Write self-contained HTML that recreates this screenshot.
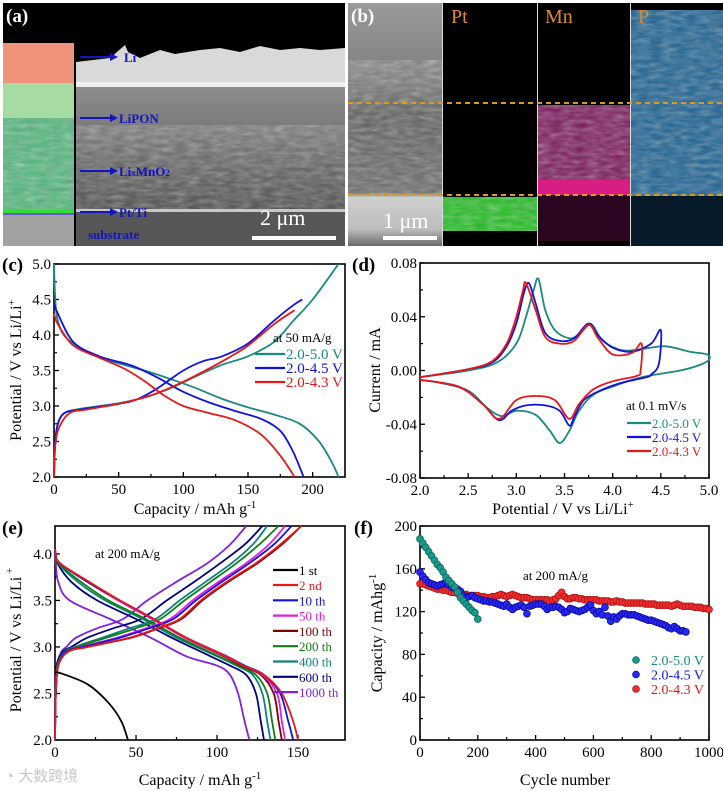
<!DOCTYPE html>
<html><head><meta charset="utf-8">
<style>
html,body{margin:0;padding:0;background:#fff;}
svg{display:block;font-family:"Liberation Serif",serif;}
</style></head>
<body>
<svg id="fig" width="723" height="791" viewBox="0 0 723 791">
<defs>
<filter id="tex" x="0" y="0" width="100%" height="100%"><feTurbulence type="fractalNoise" baseFrequency="0.08 0.25" numOctaves="2" seed="3"/><feColorMatrix type="saturate" values="0"/><feComponentTransfer><feFuncA type="table" tableValues="0 0.55"/></feComponentTransfer><feComposite in2="SourceGraphic" operator="in"/></filter>
<linearGradient id="semA" x1="0" y1="0" x2="0" y2="1"><stop offset="0" stop-color="#8c8c8c"/><stop offset="0.35" stop-color="#7a7a7a"/><stop offset="0.6" stop-color="#646464"/><stop offset="1" stop-color="#4a4a4a"/></linearGradient>
<linearGradient id="semB" x1="0" y1="0" x2="0" y2="1"><stop offset="0" stop-color="#9a9a9a"/><stop offset="0.3" stop-color="#808080"/><stop offset="0.45" stop-color="#5e5e5e"/><stop offset="0.78" stop-color="#6a6a6a"/><stop offset="0.8" stop-color="#cfcfcf"/><stop offset="0.93" stop-color="#bdbdbd"/><stop offset="1" stop-color="#6a6a6a"/></linearGradient>
</defs>

<!-- Panel (a) -->
<g>
<rect x="3" y="3" width="342" height="243" fill="#000"/>
<rect x="3" y="43" width="71" height="40" fill="#f0937b"/>
<rect x="3" y="83" width="71" height="129" fill="#a6dba3"/>
<rect x="3" y="118" width="71" height="92" fill="#4fb97c"/>
<rect x="3" y="118" width="71" height="92" fill="#2a8a5a" filter="url(#tex)"/>
<rect x="3" y="210" width="71" height="3" fill="#33dd33"/>
<rect x="3" y="213" width="71" height="2" fill="#6a5ac8"/>
<rect x="3" y="215" width="71" height="31" fill="#a2a2a2"/>
<path d="M76 62 L110 58 L125 45 L128 52 L140 58 L160 50 L175 54 L200 50 L220 48 L240 52 L260 46 L280 50 L300 48 L320 50 L345 48 L345 86 L76 86 Z" fill="#d9d9d9"/>
<rect x="76" y="82" width="269" height="5" fill="#f0f0f0"/>
<rect x="76" y="87" width="269" height="123" fill="url(#semA)"/>
<rect x="76" y="125" width="269" height="85" fill="#303030" filter="url(#tex)"/>
<rect x="76" y="209" width="269" height="3" fill="#c8c8c8"/>
<rect x="76" y="212" width="269" height="34" fill="#575757"/>
<g fill="#1414c0" font-weight="bold" font-size="13">
<line x1="80" y1="57" x2="112" y2="57" stroke="#1414c0" stroke-width="2"/><path d="M118 57 L110 53 L110 61Z"/>
<text x="124" y="62">Li</text>
<line x1="80" y1="118" x2="112" y2="118" stroke="#1414c0" stroke-width="2"/><path d="M118 118 L110 114 L110 122Z"/>
<text x="119" y="123">LiPON</text>
<line x1="80" y1="171" x2="112" y2="171" stroke="#1414c0" stroke-width="2"/><path d="M118 171 L110 167 L110 175Z"/>
<text x="119" y="176">Li<tspan font-size="9">x</tspan>MnO<tspan font-size="9">2</tspan></text>
<line x1="80" y1="212" x2="112" y2="212" stroke="#1414c0" stroke-width="2"/><path d="M118 212 L110 208 L110 216Z"/>
<text x="119" y="217">Pt/Ti</text>
<text x="88" y="239">substrate</text>
</g>
<text x="260" y="225" fill="#fff" font-size="22">2 μm</text>
<rect x="252" y="236" width="84" height="4" fill="#fff"/>
<text x="6" y="22" fill="#fff" font-weight="bold" font-size="19">(a)</text>
</g>

<!-- Panel (b) -->
<g>
<rect x="348" y="3" width="375" height="243" fill="#000"/>
<rect x="348" y="3" width="94" height="243" fill="url(#semB)"/>
<rect x="348" y="60" width="94" height="135" fill="#2a2a2a" filter="url(#tex)"/>
<rect x="443" y="197" width="94" height="34" fill="#1cc01c"/>
<rect x="443" y="197" width="94" height="34" fill="#000" filter="url(#tex)"/>
<rect x="538" y="105" width="92" height="78" fill="#7a1458"/>
<rect x="538" y="105" width="92" height="78" fill="#000" filter="url(#tex)"/>
<rect x="538" y="180" width="92" height="15" fill="#d81e84"/>
<rect x="538" y="196" width="92" height="45" fill="#2a0620"/>
<rect x="631" y="10" width="92" height="186" fill="#165f92"/>
<rect x="631" y="10" width="92" height="186" fill="#000" filter="url(#tex)"/>
<rect x="631" y="196" width="92" height="50" fill="#061a2a"/>
<line x1="442.5" y1="3" x2="442.5" y2="246" stroke="#ddd"/>
<line x1="537.5" y1="3" x2="537.5" y2="246" stroke="#ddd"/>
<line x1="630.5" y1="3" x2="630.5" y2="246" stroke="#ddd"/>
<line x1="348" y1="103" x2="723" y2="103" stroke="#d99a20" stroke-width="2" stroke-dasharray="5,4"/>
<line x1="348" y1="195" x2="723" y2="195" stroke="#d99a20" stroke-width="2" stroke-dasharray="5,4"/>
<g fill="#e08a2a" font-size="20">
<text x="451" y="23">Pt</text>
<text x="545" y="23">Mn</text>
<text x="638" y="23">P</text>
</g>
<text x="383" y="228" fill="#fff" font-size="22">1 μm</text>
<rect x="383" y="236" width="54" height="4" fill="#fff"/>
<text x="351" y="22" fill="#fff" font-weight="bold" font-size="19">(b)</text>
</g>

<g id="charts"></g>
<text x="5" y="781" fill="#c8c8c8" font-size="15" font-family="'Liberation Sans','Noto Sans CJK SC',sans-serif">◔ 大数跨境</text>
</svg>

<script>
// ---------- Panel (c) data ----------
const cXTicks = [0, 50, 100, 150, 200];
const cYTicks = [2.0, 2.5, 3.0, 3.5, 4.0, 4.5, 5.0];
const cLegend = ["2.0-5.0 V", "2.0-4.5 V", "2.0-4.3 V"];
const cTealChgCap = [0,1,3,8,20,50,70,90,110,130,150,170,185,200,220];
const cTealChgV   = [2.0,2.5,2.75,2.9,2.96,3.04,3.12,3.25,3.42,3.58,3.7,3.9,4.2,4.5,5.0];
const cTealDisCap = [0,1,3,10,30,50,70,90,110,130,150,170,190,205,215,220];
const cTealDisV   = [5.0,4.5,4.2,3.95,3.72,3.6,3.5,3.38,3.25,3.1,2.98,2.88,2.75,2.5,2.2,2.0];
const cBlueChgCap = [0,1,3,8,20,50,65,80,100,115,130,150,170,185,192];
const cBlueChgV   = [2.0,2.5,2.75,2.9,2.95,3.03,3.1,3.25,3.5,3.63,3.7,3.88,4.2,4.42,4.5];
const cBlueDisCap = [0,3,15,35,60,80,100,120,140,160,175,185,193];
const cBlueDisV   = [4.45,4.3,3.9,3.7,3.57,3.4,3.2,3.05,2.93,2.82,2.65,2.35,2.0];
const cRedChgCap  = [0,1,4,12,25,50,75,95,115,135,150,170,186];
const cRedChgV    = [2.0,2.45,2.7,2.9,2.95,3.03,3.15,3.3,3.48,3.68,3.85,4.15,4.35];
const cRedDisCap  = [0,3,15,35,55,70,85,100,120,140,160,175,186];
const cRedDisV    = [4.3,4.15,3.85,3.68,3.52,3.35,3.15,3.0,2.9,2.8,2.6,2.3,2.0];

// ---------- Panel (d) data ----------
const dXTicks = [2.0, 2.5, 3.0, 3.5, 4.0, 4.5, 5.0];
const dYTicks = [-0.08, -0.04, 0.00, 0.04, 0.08];
const dTealV = [2.0,2.5,2.8,3.0,3.1,3.18,3.23,3.3,3.4,3.55,3.65,3.75,3.8,3.9,4.1,4.3,4.55,4.8,4.98,5.0,4.9,4.7,4.3,4.0,3.8,3.65,3.55,3.45,3.35,3.2,3.0,2.85,2.7,2.5,2.2,2.0];
const dTealI = [-0.005,0.0,0.006,0.02,0.04,0.06,0.068,0.045,0.03,0.024,0.027,0.034,0.033,0.022,0.015,0.016,0.018,0.014,0.012,0.008,0.004,0.0,-0.005,-0.012,-0.018,-0.03,-0.045,-0.054,-0.045,-0.033,-0.03,-0.034,-0.028,-0.015,-0.009,-0.007];
const dBlueV = [2.0,2.5,2.75,2.9,3.0,3.08,3.13,3.2,3.3,3.45,3.6,3.75,3.85,4.0,4.2,4.4,4.5,4.48,4.4,4.35,4.1,3.9,3.7,3.6,3.55,3.45,3.3,3.1,2.95,2.82,2.65,2.4,2.0];
const dBlueI = [-0.005,0.001,0.006,0.018,0.035,0.058,0.065,0.05,0.028,0.022,0.024,0.035,0.026,0.017,0.014,0.02,0.03,0.005,-0.003,-0.005,-0.009,-0.014,-0.022,-0.035,-0.041,-0.03,-0.026,-0.026,-0.03,-0.037,-0.025,-0.012,-0.007];
const dRedV = [2.0,2.5,2.75,2.9,3.0,3.07,3.1,3.2,3.3,3.45,3.6,3.75,3.85,4.0,4.2,4.3,4.29,4.25,4.0,3.8,3.65,3.55,3.4,3.2,3.0,2.82,2.65,2.4,2.0];
const dRedI = [-0.005,0.001,0.007,0.02,0.04,0.06,0.065,0.045,0.025,0.02,0.022,0.034,0.024,0.012,0.013,0.02,0.0,-0.004,-0.008,-0.014,-0.025,-0.036,-0.022,-0.019,-0.022,-0.036,-0.025,-0.012,-0.007];

// ---------- Panel (e) data ----------
const eXTicks = [0, 50, 100, 150];
const eYTicks = [2.0, 2.5, 3.0, 3.5, 4.0];
const eCycles = ["2 nd","10 th","50 th","100 th","200 th","400 th","600 th","1000 th"];
const eChgV = [2.0,2.5,2.8,2.95,3.0,3.1,3.2,3.3,3.5,3.7,3.9,4.1,4.3];
const eDisV = [4.05,4.0,3.9,3.7,3.5,3.3,3.1,2.9,2.8,2.7,2.5,2.2,2.0];
const eChg2    = [0,0.5,2,8,20,46,63,77,90,106,124,139,152];
const eChg10   = [0,0.5,2,7,17,40,58,73,87,103,120,135,146];
const eChg50   = [0,0.5,2,7,16,38,56,71,85,101,118,132,142];
const eChg100  = [0,0.5,2,8,20,47,64,78,91,107,125,140,152];
const eChg200  = [0,0.4,1.5,6,13,32,50,65,80,96,112,126,138];
const eChg400  = [0,0.4,1.5,6,12,29,46,62,77,93,109,122,131];
const eChg600  = [0,0.3,1,5,10,20,36,53,69,86,102,117,128];
const eChg1000 = [0,0.3,1,4,7,13,26,42,57,75,94,108,118];
const eDis2    = [0,0.5,3,21,40,61,81,106,116,129,140,147,150];
const eDis10   = [0,0.5,3,20,40,61,81,106,117,129,139,144,147];
const eDis50   = [0,0.5,3,20,39,60,80,105,116,128,137,140,142];
const eDis100  = [0,0.5,3,20,39,60,80,104,115,127,135,138,140];
const eDis200  = [0,0.4,2,16,33,56,77,101,113,124,131,134,136];
const eDis400  = [0,0.4,2,14,31,54,75,100,112,122,128,131,133];
const eDis600  = [0,0.3,1.5,10,26,50,72,96,108,118,124,127,129];
const eDis1000 = [0,0,0.5,2,9,34,59,81,100,108,113,117,120];
const eFirstCap = [0,3,20,33,41,45];
const eFirstV   = [2.72,2.72,2.6,2.4,2.2,2.0];

// ---------- Panel (f) data ----------
const fXTicks = [0, 200, 400, 600, 800, 1000];
const fYTicks = [0, 40, 80, 120, 160, 200];
const fTeal = [188,184,180,176,172,168,164,161,157,152,149,146,143,138,133,130,127,124,121,119,113];
const fBlue = [157,153,150,147,146,145,144,145,146,147,145,143,142,141,139,135,133,134,135,133,132,131,130,130,129,129,128,127,126,125,127,124,122,124,125,126,124,118,125,126,127,127,127,125,122,124,124,125,124,122,119,120,123,122,121,120,121,122,124,126,121,118,120,117,124,116,111,115,113,116,118,118,117,117,117,116,115,114,113,112,112,111,110,109,108,107,105,104,106,104,102,102,101];
const fRed = [146,146,145,144,143,142,141,141,140,140,139,138,138,137,137,136,136,135,135,135,135,134,134,133,133,134,134,135,136,135,134,135,136,135,134,133,133,133,132,131,131,131,131,131,131,130,131,132,135,138,134,132,132,133,133,132,132,131,131,131,131,131,130,130,130,130,129,129,130,129,129,128,128,128,128,128,128,128,127,127,127,127,126,126,126,126,126,125,126,127,126,125,125,125,125,124,124,124,123,123,122];
const fCycleStep = 10;

const NS = "http://www.w3.org/2000/svg";
const root = document.getElementById("charts");
function mk(tag, attrs, parent) {
  const el = document.createElementNS(NS, tag);
  for (const k in attrs) el.setAttribute(k, attrs[k]);
  (parent || root).appendChild(el);
  return el;
}
function makeAxis(x0, x1, y0, y1, xmin, xmax, ymin, ymax) {
  return {
    sx: v => x0 + (v - xmin) / (xmax - xmin) * (x1 - x0),
    sy: v => y1 - (v - ymin) / (ymax - ymin) * (y1 - y0),
    x0, x1, y0, y1
  };
}
function smoothPath(pts) {
  let d = "M" + pts[0][0].toFixed(1) + " " + pts[0][1].toFixed(1);
  for (let i = 0; i < pts.length - 1; i++) {
    const p0 = pts[Math.max(0, i - 1)], p1 = pts[i], p2 = pts[i + 1], p3 = pts[Math.min(pts.length - 1, i + 2)];
    const c1x = p1[0] + (p2[0] - p0[0]) / 6, c1y = p1[1] + (p2[1] - p0[1]) / 6;
    const c2x = p2[0] - (p3[0] - p1[0]) / 6, c2y = p2[1] - (p3[1] - p1[1]) / 6;
    d += " C" + c1x.toFixed(1) + " " + c1y.toFixed(1) + " " + c2x.toFixed(1) + " " + c2y.toFixed(1) + " " + p2[0].toFixed(1) + " " + p2[1].toFixed(1);
  }
  return d;
}
function drawFrame(ax, xt, yt, fmtX, fmtY, xMinor, yMinor, name) {
  const g = mk("g", {});
  
  
  xt.forEach((v, i) => {
    const x = ax.sx(v);
    mk("line", {x1: x, y1: ax.y1, x2: x, y2: ax.y1 - 5, stroke: "#000", "stroke-width": 1.3}, g);
    const t = mk("text", {x: x, y: ax.y1 + 17, "text-anchor": "middle", "font-size": 15}, g);
    t.textContent = fmtX(v);
    
    
    if (i < xt.length - 1) {
      const xm = ax.sx(v + xMinor);
      mk("line", {x1: xm, y1: ax.y1, x2: xm, y2: ax.y1 - 3, stroke: "#000", "stroke-width": 1.2}, g);
    }
  });
  yt.forEach((v, i) => {
    const y = ax.sy(v);
    mk("line", {x1: ax.x0, y1: y, x2: ax.x0 + 5, y2: y, stroke: "#000", "stroke-width": 1.3}, g);
    const t = mk("text", {x: ax.x0 - 3, y: y + 5, "text-anchor": "end", "font-size": 15}, g);
    t.textContent = fmtY(v);
    
    
    if (i < yt.length - 1) {
      const ym = ax.sy(v + yMinor);
      mk("line", {x1: ax.x0, y1: ym, x2: ax.x0 + 3, y2: ym, stroke: "#000", "stroke-width": 1.2}, g);
    }
  });
  const r = mk("rect", {x: ax.x0, y: ax.y0, width: ax.x1 - ax.x0, height: ax.y1 - ax.y0, fill: "none", stroke: "#000", "stroke-width": 1.6}, g);
  
  
}
function curve(ax, xs, ys, color, name) {
  const pts = xs.map((x, i) => [ax.sx(x), ax.sy(ys[i])]);
  const p = mk("path", {d: smoothPath(pts), fill: "none", stroke: color, "stroke-width": 1.8, "stroke-linejoin": "round"});
  
  
}
function txt(x, y, s, opts, name) {
  const t = mk("text", Object.assign({x: x, y: y, "font-size": 14}, opts || {}));
  t.textContent = s;
  
  
  return t;
}
function legendLine(x, y, w, color, label, name, fs) {
  const l = mk("line", {x1: x, y1: y, x2: x + w, y2: y, stroke: color, "stroke-width": 2.2});
  
  
  txt(x + w + 1, y + 5, label, {fill: color, "font-size": fs || 14}, name);
}

// ===== Panel c =====
const axC = makeAxis(54, 345, 264, 477, 0, 225, 2.0, 5.0);
drawFrame(axC, cXTicks, cYTicks, v => String(v), v => v.toFixed(1), 25, 0.25, "panel-c");
curve(axC, cTealChgCap, cTealChgV, "#1a8a80", "c-charge-2-0-5-0v");
curve(axC, cTealDisCap, cTealDisV, "#1a8a80", "c-discharge-2-0-5-0v");
curve(axC, cBlueChgCap, cBlueChgV, "#1212e0", "c-charge-2-0-4-5v");
curve(axC, cBlueDisCap, cBlueDisV, "#1212e0", "c-discharge-2-0-4-5v");
curve(axC, cRedChgCap, cRedChgV, "#e81818", "c-charge-2-0-4-3v");
curve(axC, cRedDisCap, cRedDisV, "#e81818", "c-discharge-2-0-4-3v");
txt(273, 342, "at 50 mA/g", {"font-size": 13}, "c-rate-annotation");
legendLine(255, 354, 30, "#1a8a80", cLegend[0], "c-legend-entry-5-0v", 15);
legendLine(255, 368, 30, "#1212e0", cLegend[1], "c-legend-entry-4-5v", 15);
legendLine(255, 382, 30, "#e81818", cLegend[2], "c-legend-entry-4-3v", 15);
txt(195, 514, "", {"text-anchor": "middle", "font-size": 16}, "c-x-axis-title").innerHTML = "Capacity / mAh g<tspan dy='-6' font-size='11'>-1</tspan>";
txt(0, 0, "", {"text-anchor": "middle", "font-size": 16, transform: "translate(21,370) rotate(-90)"}, "c-y-axis-title").innerHTML = "Potential / V vs Li/Li<tspan dy='-6' font-size='11'>+</tspan>";
txt(2, 271, "(c)", {"font-weight": "bold", "font-size": 19}, "panel-label-c");

// ===== Panel d =====
const axD = makeAxis(420, 709, 263, 478, 2.0, 5.0, -0.08, 0.08);
drawFrame(axD, dXTicks, dYTicks, v => v.toFixed(1), v => v.toFixed(2), 0.25, 0.02, "panel-d");
curve(axD, dTealV, dTealI, "#1a8a80", "d-cv-2-0-5-0v");
curve(axD, dBlueV, dBlueI, "#1212e0", "d-cv-2-0-4-5v");
curve(axD, dRedV, dRedI, "#e81818", "d-cv-2-0-4-3v");
txt(626, 410, "at 0.1 mV/s", {"font-size": 13}, "d-rate-annotation");
legendLine(627, 423, 24, "#1a8a80", cLegend[0], "d-legend-entry-5-0v", 13);
legendLine(627, 437, 24, "#1212e0", cLegend[1], "d-legend-entry-4-5v", 13);
legendLine(627, 451, 24, "#e81818", cLegend[2], "d-legend-entry-4-3v", 13);
txt(563, 514, "", {"text-anchor": "middle", "font-size": 16}, "d-x-axis-title").innerHTML = "Potential / V vs Li/Li<tspan dy='-6' font-size='11'>+</tspan>";
txt(0, 0, "Current / mA", {"text-anchor": "middle", "font-size": 16, transform: "translate(380,370) rotate(-90)"}, "d-y-axis-title");
txt(352, 271, "(d)", {"font-weight": "bold", "font-size": 19}, "panel-label-d");

// ===== Panel e =====
const axE = makeAxis(55, 345, 526, 740, 0, 179, 2.0, 4.3);
drawFrame(axE, eXTicks, eYTicks, v => String(v), v => v.toFixed(1), 25, 0.25, "panel-e");
const eColors = ["#e81818","#1212e0","#e020e0","#800000","#108010","#108080","#000080","#8020e0"];
const eChg = [eChg2, eChg10, eChg50, eChg100, eChg200, eChg400, eChg600, eChg1000];
const eDis = [eDis2, eDis10, eDis50, eDis100, eDis200, eDis400, eDis600, eDis1000];
for (let i = eCycles.length - 1; i >= 0; i--) {
  curve(axE, eChg[i], eChgV, eColors[i], "e-charge-cycle-" + eCycles[i].replace(" ", ""));
  curve(axE, eDis[i], eDisV, eColors[i], "e-discharge-cycle-" + eCycles[i].replace(" ", ""));
}
curve(axE, eFirstCap, eFirstV, "#000", "e-discharge-cycle-1st");
txt(95, 558, "at 200 mA/g", {"font-size": 13}, "e-rate-annotation");
legendLine(273, 570, 25, "#000", "1 st", "e-legend-entry-1st", 13);
eCycles.forEach((c, i) => legendLine(273, 585 + i * 15.3, 25, eColors[i], c, "e-legend-entry-" + c.replace(" ", ""), 13));
txt(200, 785, "", {"text-anchor": "middle", "font-size": 16}, "e-x-axis-title").innerHTML = "Capacity / mAh g<tspan dy='-6' font-size='11'>-1</tspan>";
txt(0, 0, "", {"text-anchor": "middle", "font-size": 16, transform: "translate(21,640) rotate(-90)"}, "e-y-axis-title").innerHTML = "Potential / V vs Li/Li<tspan dy='-8' font-size='11'> +</tspan>";
txt(2, 534, "(e)", {"font-weight": "bold", "font-size": 19}, "panel-label-e");

// ===== Panel f =====
const axF = makeAxis(420, 709, 526, 740, 0, 1000, 0, 200);
drawFrame(axF, fXTicks, fYTicks, v => String(v), v => String(v), 100, 20, "panel-f");
function dots(arr, fill, stroke, name) {
  const g = mk("g", {});
  
  
  arr.forEach((v, i) => {
    const c = mk("circle", {cx: axF.sx(i * fCycleStep), cy: axF.sy(v), r: 3.4, fill: fill, stroke: stroke, "stroke-width": 0.8}, g);
    
    
  });
}
dots(fRed, "#f03030", "#b01010", "f-series-2-0-4-3v");
dots(fBlue, "#2828f0", "#0808a0", "f-series-2-0-4-5v");
dots(fTeal, "#1a9a8a", "#0a6a5a", "f-series-2-0-5-0v");
txt(523, 580, "at 200 mA/g", {"font-size": 13}, "f-rate-annotation");
[["#1a9a8a","#0a6a5a",cLegend[0],"#1a8a80"],["#2828f0","#0808a0",cLegend[1],"#1212e0"],["#f03030","#b01010",cLegend[2],"#e81818"]].forEach((e, i) => {
  const y = 660 + i * 14.5;
  const c = mk("circle", {cx: 636, cy: y, r: 3.4, fill: e[0], stroke: e[1], "stroke-width": 0.8});
  
  
  txt(651, y + 5, e[2], {fill: e[3], "font-size": 14}, "f-legend-entry-" + i);
});
txt(565, 785, "Cycle number", {"text-anchor": "middle", "font-size": 16}, "f-x-axis-title");
txt(0, 0, "", {"text-anchor": "middle", "font-size": 16, transform: "translate(382,633) rotate(-90)"}, "f-y-axis-title").innerHTML = "Capacity / mAhg<tspan dy='-6' font-size='11'>-1</tspan>";
txt(354, 534, "(f)", {"font-weight": "bold", "font-size": 19}, "panel-label-f");
</script>
</body></html>
